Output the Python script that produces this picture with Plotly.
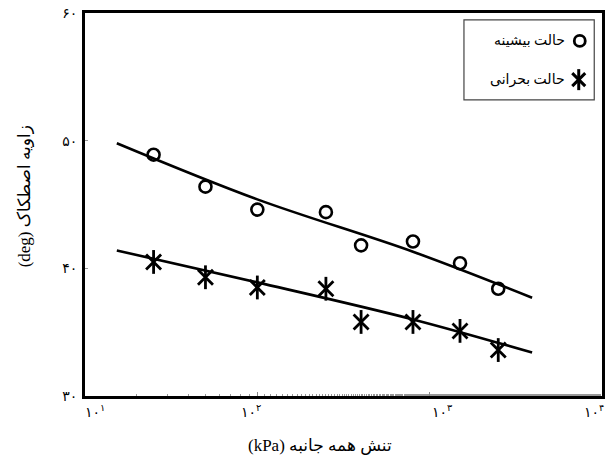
import math
import plotly.graph_objects as go

# Confining stress (kPa) at each test
stress_peak = [25, 50, 100, 250, 400, 800, 1500, 2500]
stress_crit = [25, 50, 100, 250, 400, 800, 1500, 2500]

# Friction angle (deg)
phi_peak = [48.9, 46.4, 44.6, 44.4, 41.8, 42.1, 40.4, 38.4]
phi_crit = [40.5, 39.3, 38.5, 38.4, 35.8, 35.8, 35.1, 33.6]

# Trend lines
trend_x = [15.3, 100, 800, 3930]
trend_peak = [49.8, 45.4, 41.3, 37.7]
trend_crit = [41.4, 38.9, 36.0, 33.4]

x_tickvals = [10, 100, 1000, 10000]
x_ticktext = ["۱۰<sup>۱</sup>", "۱۰<sup>۲</sup>", "۱۰<sup>۳</sup>", "۱۰<sup>۴</sup>"]
y_tickvals = [30, 40, 50, 60]
y_ticktext = ["۳۰", "۴۰", "۵۰", "۶۰"]

legend_labels = ["حالت بیشینه", "حالت بحرانی"]
x_title = "(kPa) تنش همه جانبه"
y_title = "(deg) زاویه اصطکاک"

FONT = "Liberation Serif, DejaVu Serif, DejaVu Sans, serif"
INK = "black"

# horizontal nudge (px) of each decade label relative to its tick
x_label_nudge = [10, -6, 12, -8]

fig = go.Figure()

fig.add_trace(go.Scatter(x=trend_x, y=trend_peak, mode="lines",
                         line=dict(color=INK, width=2.6, shape="spline"),
                         showlegend=False))
fig.add_trace(go.Scatter(x=trend_x, y=trend_crit, mode="lines",
                         line=dict(color=INK, width=2.6, shape="spline"),
                         showlegend=False))

# peak state: open circles
fig.add_trace(go.Scatter(x=stress_peak, y=phi_peak, mode="markers",
                         marker=dict(symbol="circle-open", size=12, color=INK,
                                     line=dict(color=INK, width=2.6)),
                         showlegend=False))

# critical state: six-armed asterisk (x + vertical stroke)
star_style = [dict(symbol="x-thin-open", size=15), dict(symbol="line-ns-open", size=17)]
for st in star_style:
    fig.add_trace(go.Scatter(x=stress_crit, y=phi_crit, mode="markers",
                             marker=dict(symbol=st["symbol"], size=st["size"], color=INK,
                                         line=dict(color=INK, width=2.8)),
                             showlegend=False))

# legend symbols drawn on an overlay axis spanning the plot area
leg_x = [0.957, 0.955]
leg_y = [0.927, 0.826]
fig.add_trace(go.Scatter(x=[leg_x[0]], y=[leg_y[0]], mode="markers", xaxis="x2", yaxis="y2",
                         marker=dict(symbol="circle-open", size=11, color=INK,
                                     line=dict(color=INK, width=2.8)),
                         showlegend=False))
for st in star_style:
    fig.add_trace(go.Scatter(x=[leg_x[1]], y=[leg_y[1]], mode="markers", xaxis="x2", yaxis="y2",
                             marker=dict(symbol=st["symbol"], size=st["size"] - 2, color=INK,
                                         line=dict(color=INK, width=3)),
                             showlegend=False))

annotations = []
for lbl, yy in zip(legend_labels, leg_y):
    annotations.append(dict(x=0.932, y=yy, xref="paper", yref="paper", text=lbl,
                            showarrow=False, xanchor="right", yanchor="middle",
                            font=dict(family=FONT, size=14, color=INK)))
# decade labels under the log axis
for tv, tt, dx in zip(x_tickvals, x_ticktext, x_label_nudge):
    annotations.append(dict(x=math.log10(tv), y=-0.04, xref="x", yref="paper", text=tt,
                            showarrow=False, xanchor="center", yanchor="middle", xshift=dx,
                            font=dict(family=FONT, size=14, color=INK)))
annotations.append(dict(x=0.455, y=-0.1, xref="paper", yref="paper", text=x_title,
                        showarrow=False, xanchor="center", yanchor="top",
                        font=dict(family=FONT, size=17, color=INK)))
annotations.append(dict(x=-0.117, y=0.52, xref="paper", yref="paper", text=y_title,
                        showarrow=False, xanchor="center", yanchor="middle", textangle=-90,
                        font=dict(family=FONT, size=17, color=INK)))

fig.update_layout(
    width=608, height=459,
    margin=dict(l=85, r=6, t=13, b=63),
    paper_bgcolor="white", plot_bgcolor="white",
    font=dict(family=FONT, color=INK, size=13),
    showlegend=False,
    annotations=annotations,
    shapes=[dict(type="rect", xref="paper", yref="paper",
                 x0=0.733, x1=0.985, y0=0.773, y1=0.982,
                 line=dict(color="#444", width=1.2), fillcolor="rgba(0,0,0,0)")],
    xaxis=dict(type="log", range=[1, 4], tickvals=x_tickvals, showticklabels=False,
               automargin=False,
               showgrid=False, zeroline=False, showline=True, mirror=True,
               linecolor=INK, linewidth=3, ticks="inside", ticklen=4, tickcolor="#888",
               minor=dict(ticks="inside", ticklen=2, tickcolor="#999")),
    yaxis=dict(range=[30, 60], tickvals=y_tickvals, ticktext=y_ticktext,
               automargin=False, ticklabeloverflow="allow", ticklabelstandoff=2,
               showgrid=False, zeroline=False, showline=True, mirror=True,
               linecolor=INK, linewidth=3, ticks="inside", ticklen=3, tickcolor="#999",
               tickfont=dict(size=14)),
    xaxis2=dict(range=[0, 1], overlaying="x", visible=False, fixedrange=True, automargin=False),
    yaxis2=dict(range=[0, 1], overlaying="y", visible=False, fixedrange=True, automargin=False),
)

fig.write_html("out.html")
